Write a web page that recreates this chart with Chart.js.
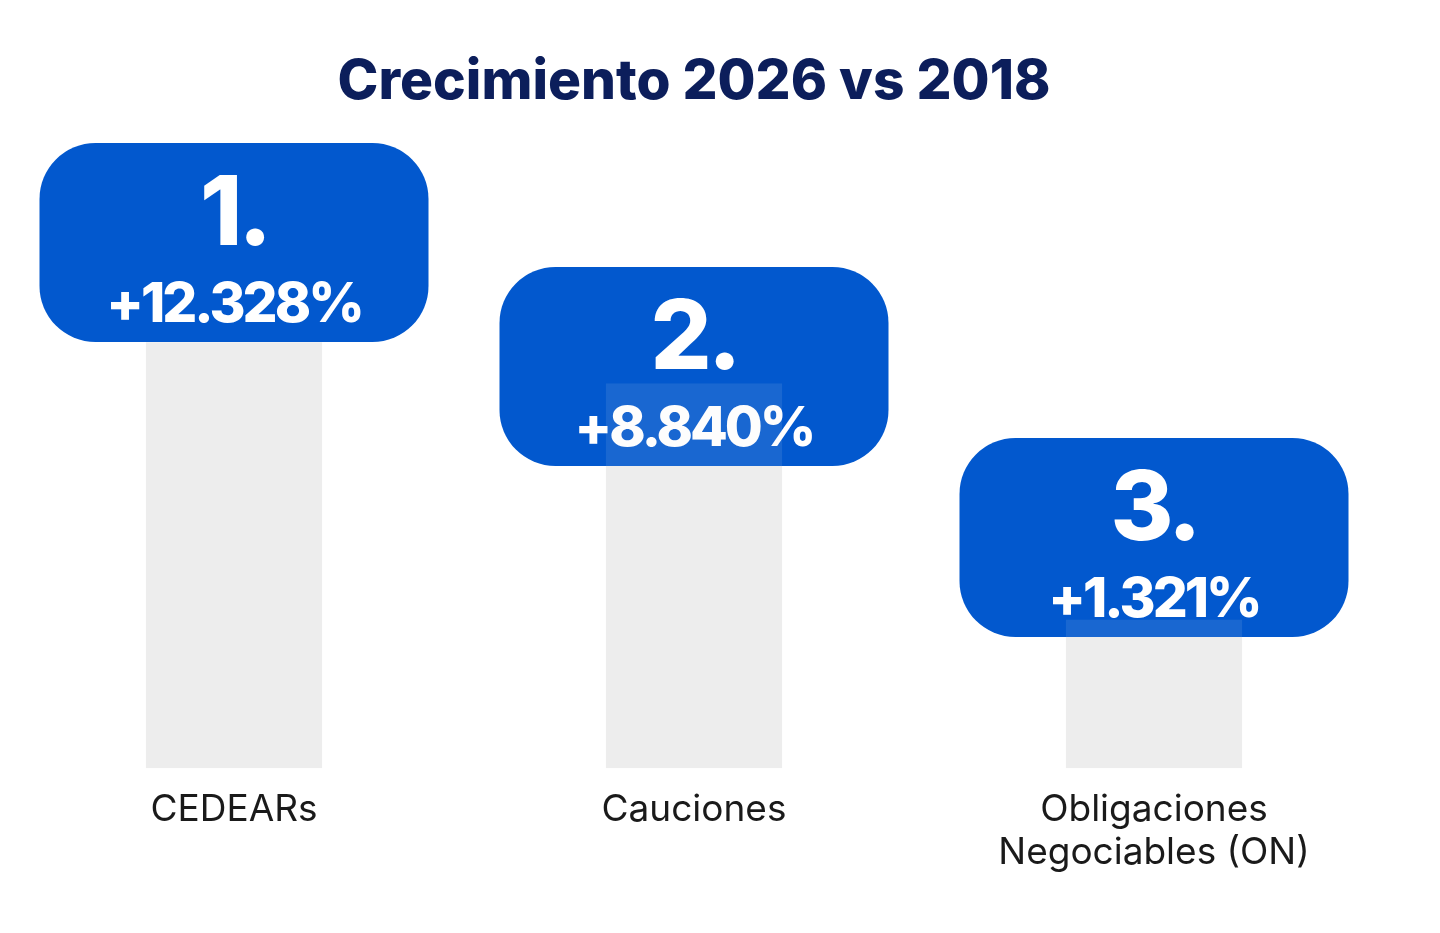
<!DOCTYPE html>
<html lang="es">
<head>
<meta charset="utf-8">
<title>Crecimiento 2026 vs 2018</title>
<script src="https://cdn.jsdelivr.net/npm/chart.js@4.4.1/dist/chart.umd.min.js"></script>
<style>
    html, body { margin: 0; padding: 0; background: #ffffff; }
    #wrap { width: 1440px; height: 933px; position: relative; }
</style>
</head>
<body>
<div id="wrap"><canvas id="growthChart"></canvas></div>
<script>
// data
const categories = ['CEDEARs', 'Cauciones', ['Obligaciones', 'Negociables (ON)']];
const growthPct = [12328, 8840, 1321];
const rankLabels = ['1.', '2.', '3.'];

const BLUE = '#0258ce';
const GRAY = '#ededed';
const NAVY = '#0c1e5b';

// vertical placement of the blue badges (px from top of canvas)
const badgeTops = [143, 267, 438];
const badgeW = 389;
const badgeH = 199;
const badgeR = 56;

function formatPct(v) {
    return '+' + v.toLocaleString('de-DE') + '%';
}

const badgePlugin = {
    id: 'badges',
    afterDatasetsDraw(chart) {
        const ctx = chart.ctx;
        const bars = chart.getDatasetMeta(0).data;
        bars.forEach((bar, i) => {
            const left = bar.x - badgeW / 2;
            const top = badgeTops[i];
            ctx.save();
            ctx.fillStyle = BLUE;
            ctx.beginPath();
            ctx.roundRect(left, top, badgeW, badgeH, badgeR);
            ctx.fill();

            ctx.fillStyle = '#ffffff';
            ctx.textAlign = 'center';
            ctx.textBaseline = 'alphabetic';
            ctx.letterSpacing = '-4px';
            ctx.font = '800 96px Inter';
            ctx.fillText(rankLabels[i], bar.x, top + 102);
            ctx.letterSpacing = '-3px';
            ctx.font = '800 55px Inter';
            ctx.fillText(formatPct(growthPct[i]), bar.x, top + 179);
            ctx.letterSpacing = '0px';

            // the grey bar shows faintly through the badge
            const overlapTop = Math.max(bar.y, top);
            const overlapBottom = top + badgeH;
            if (overlapBottom > overlapTop) {
                ctx.beginPath();
                ctx.roundRect(left, top, badgeW, badgeH, badgeR);
                ctx.clip();
                ctx.fillStyle = 'rgba(236,236,236,0.1)';
                ctx.fillRect(bar.x - bar.width / 2, overlapTop, bar.width, overlapBottom - overlapTop);
            }
            ctx.restore();
        });
    }
};

function createGrowthChart() {
    const ctx = document.getElementById('growthChart').getContext('2d');
    new Chart(ctx, {
        type: 'bar',
        data: {
            labels: categories,
            datasets: [{
                label: 'Crecimiento',
                data: growthPct,
                backgroundColor: GRAY,
                borderWidth: 0,
                barPercentage: 0.383,
                categoryPercentage: 1
            }]
        },
        options: {
            responsive: true,
            maintainAspectRatio: false,
            animation: false,
            layout: {
                padding: { left: 4, right: 56, top: 0, bottom: 39 }
            },
            plugins: {
                legend: { display: false },
                tooltip: { enabled: false },
                title: {
                    display: true,
                    text: 'Crecimiento 2026 vs 2018',
                    color: NAVY,
                    font: { family: 'Inter', size: 55, weight: '800', lineHeight: 1.2 },
                    padding: { top: 49, bottom: 167 }
                }
            },
            scales: {
                x: {
                    grid: { display: false, drawTicks: false },
                    border: { display: false },
                    ticks: {
                        color: '#1a1a1a',
                        padding: 20,
                        maxRotation: 0,
                        font: { family: 'Inter', size: 37, weight: '400', lineHeight: 1.16 }
                    }
                },
                y: {
                    type: 'logarithmic',
                    min: 400,
                    max: 20000,
                    display: false
                }
            }
        },
        plugins: [badgePlugin]
    });
}

createGrowthChart();
</script>
</body>
</html>
